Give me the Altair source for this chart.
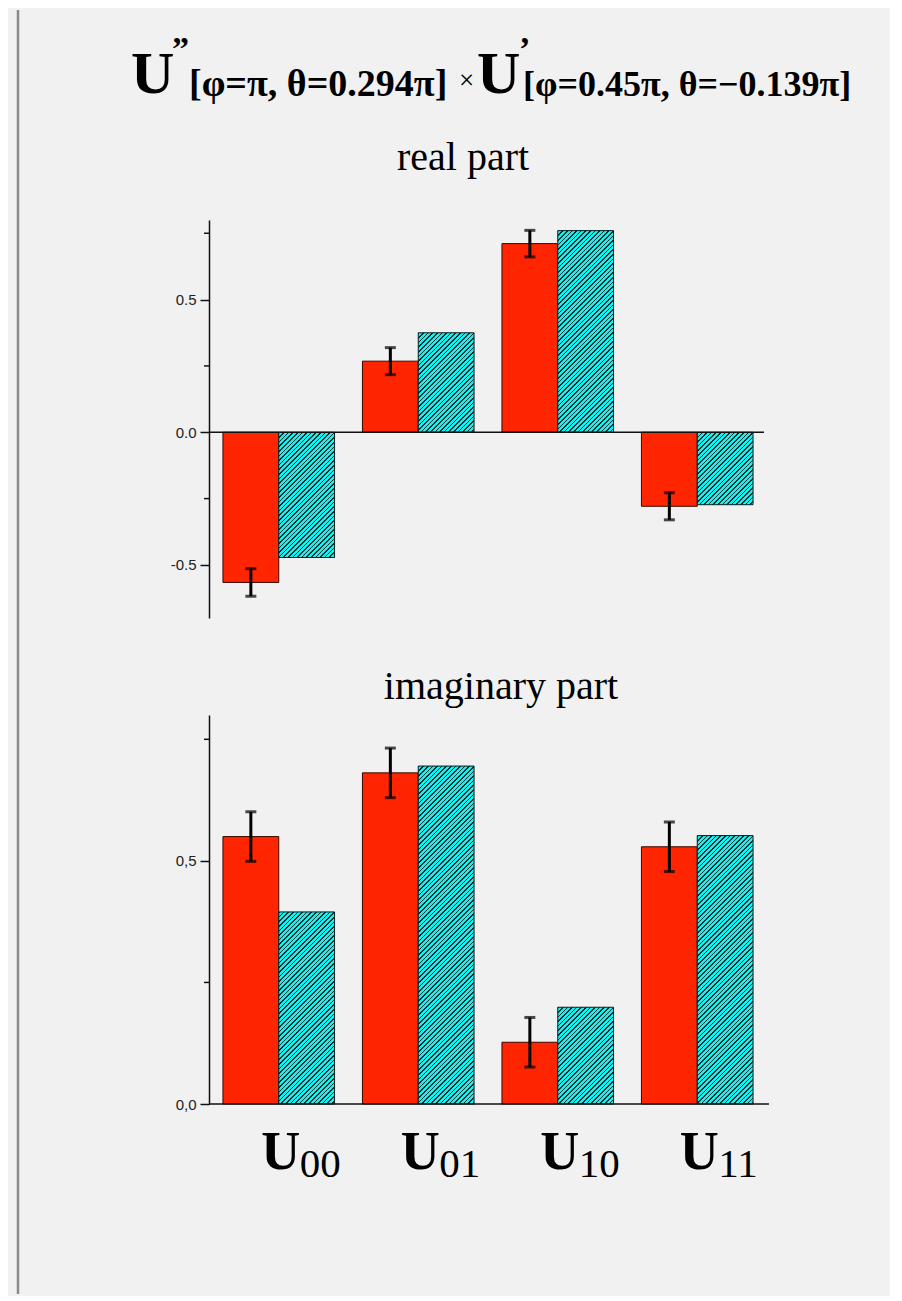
import altair as alt
import pandas as pd

# ---------------- data ----------------
categories = ["U00", "U01", "U10", "U11"]
subscripts = ["00", "01", "10", "11"]
series = ["exp", "theory"]

real_exp = [-0.566, 0.268, 0.711, -0.279]
real_err = [0.052, 0.051, 0.050, 0.051]
real_theory = [-0.472, 0.375, 0.760, -0.273]

imag_exp = [0.550, 0.681, 0.127, 0.529]
imag_err = [0.051, 0.051, 0.051, 0.051]
imag_theory = [0.395, 0.695, 0.199, 0.552]

real_major = [-0.5, 0.0, 0.5]
real_minor = [-0.25, 0.25, 0.75]
imag_major = [0.0, 0.5]
imag_minor = [0.25, 0.75]

# ---------------- style / layout ----------------
W = 558
H = 884
TOP_DOMAIN = [-0.7, 0.8]
TOP_RANGE = [398, 0]
BOT_DOMAIN = [0.0, 0.8]
BOT_RANGE = [884, 495]

RED = "#ff2500"
CYAN = "#12f2f2"
DARK = "#0c2b2b"
BG = "#f1f1f1"
SERIF = "Liberation Serif"
SANS = "Liberation Sans"

SUB_W = W / 4 * 0.8 / 2


def hatch(h_px, w_px=SUB_W, period=4.6, line=1.6):
    """Diagonal '/' hatch expressed as a hard-stop linear gradient in bbox units."""
    L = w_px + h_px
    k = L / (w_px ** 2 + h_px ** 2)
    stops = []
    c = 0.0
    while c < L:
        a = round(c / L, 5)
        b = round(min((c + line) / L, 1.0), 5)
        e = round(min((c + period) / L, 1.0), 5)
        stops += [
            {"offset": a, "color": DARK},
            {"offset": b, "color": DARK},
            {"offset": b, "color": CYAN},
            {"offset": e, "color": CYAN},
        ]
        c += period
    return {"gradient": "linear", "x1": 0, "y1": 0,
            "x2": round(k * w_px, 5), "y2": round(k * h_px, 5), "stops": stops}


def make_df(exp, err, theory):
    rows = []
    for i, c in enumerate(categories):
        rows.append({"cat": c, "series": "exp", "val": exp[i],
                     "lo": exp[i] - err[i], "hi": exp[i] + err[i]})
        rows.append({"cat": c, "series": "theory", "val": theory[i],
                     "lo": theory[i], "hi": theory[i]})
    return pd.DataFrame(rows)


def group(df, domain, rng, major, minor, label_expr, theory, zero_x2):
    px_per_unit = abs(rng[0] - rng[1]) / (domain[1] - domain[0])
    scale = alt.Scale(domain=domain, range=rng, nice=False, zero=False)
    axis = alt.Axis(values=major, labelExpr=label_expr, tickSize=9, tickWidth=1.5,
                    tickColor="#111", domainColor="#111", domainWidth=1.5,
                    labelFont=SANS, labelFontSize=15, labelColor="#222",
                    labelPadding=4, grid=False, title=None, orient="left")
    x = alt.X("cat:N", sort=categories, axis=None,
              scale=alt.Scale(paddingInner=0.2, paddingOuter=0.1))
    xo = alt.XOffset("series:N", sort=series)

    def Y(field):
        return alt.Y(f"{field}:Q", scale=scale, axis=axis, stack=None)

    base = alt.Chart(df)
    layers = []
    layers.append(
        base.transform_filter(alt.datum.series == "exp")
        .mark_bar(fill=RED, stroke="#3a0800", strokeWidth=1)
        .encode(x=x, xOffset=xo, y=Y("val"))
    )
    for i, c in enumerate(categories):
        h = abs(theory[i]) * px_per_unit
        layers.append(
            base.transform_filter((alt.datum.series == "theory") & (alt.datum.cat == c))
            .mark_bar(fill=hatch(h), stroke="#0a1e1e", strokeWidth=1)
            .encode(x=x, xOffset=xo, y=Y("val"))
        )
    # zero line
    layers.append(
        alt.Chart(pd.DataFrame({"val": [0.0]}))
        .mark_rule(color="#111", strokeWidth=1.5)
        .encode(y=Y("val"), x=alt.value(0), x2=alt.value(zero_x2))
    )
    # minor ticks
    layers.append(
        alt.Chart(pd.DataFrame({"val": minor}))
        .mark_rule(color="#111", strokeWidth=1.5)
        .encode(y=Y("val"), x=alt.value(-5), x2=alt.value(0))
    )
    # error bars
    err = base.transform_filter(alt.datum.series == "exp")
    layers.append(
        err.mark_rule(color="#000", strokeWidth=3)
        .encode(x=x, xOffset=xo, y=Y("lo"), y2="hi:Q")
    )
    for f in ["lo", "hi"]:
        layers.append(
            err.mark_tick(color="#000", thickness=3, size=11, orient="horizontal")
            .encode(x=x, xOffset=xo, y=Y(f))
        )
    return layers


real_df = make_df(real_exp, real_err, real_theory)
imag_df = make_df(imag_exp, imag_err, imag_theory)

top_layers = group(real_df, TOP_DOMAIN, TOP_RANGE, real_major, real_minor,
                   "replace(format(datum.value, '.1f'), '\u2212', '-')", real_theory, 555)
bot_layers = group(imag_df, BOT_DOMAIN, BOT_RANGE, imag_major, imag_minor,
                   "replace(format(datum.value, '.1f'), '.', ',')", imag_theory, 560)

one = pd.DataFrame({"k": [0]})


def label(text, x, y, size, weight="normal", align="left", font=SERIF):
    return (alt.Chart(one)
            .mark_text(text=text, font=font, fontSize=size, fontWeight=weight,
                       align=align, baseline="alphabetic", color="#000")
            .encode(x=alt.value(x), y=alt.value(y)))


texts = [
    label("U", -78, -127, 60, "bold"),
    label("\u201d", -37, -160, 34, "bold"),
    label("[\u03c6=\u03c0, \u03b8=0.294\u03c0]", -20, -124, 38, "bold"),
    label("\u00d7", 250, -131, 27),
    label("U", 268, -127, 60, "bold"),
    label("\u2019", 310, -160, 34, "bold"),
    label("[\u03c6=0.45\u03c0, \u03b8=\u22120.139\u03c0]", 314, -124, 36, "bold"),
    label("real part", 254, -50, 40, align="center"),
    label("imaginary part", 292, 479, 40, align="center"),
]

# left grey margin line of the page
side_line = (alt.Chart(one).mark_rule(color="#8a8a8a", strokeWidth=2.5)
             .encode(x=alt.value(-191), y=alt.value(-210), y2=alt.value(1074)))

xlab_x = alt.X("cat:N", sort=categories, axis=None,
               scale=alt.Scale(paddingInner=0.2, paddingOuter=0.1))
lab_df = pd.DataFrame({"cat": categories, "sub": subscripts})
u_labels = (alt.Chart(lab_df)
            .mark_text(text="U", font=SERIF, fontSize=54, fontWeight="bold",
                       align="center", baseline="alphabetic", dx=2, color="#000")
            .encode(x=xlab_x, y=alt.value(949)))
sub_labels = (alt.Chart(lab_df)
              .mark_text(font=SERIF, fontSize=41, align="left",
                         baseline="alphabetic", dx=21, color="#000")
              .encode(x=xlab_x, y=alt.value(957), text="sub:N"))

top = alt.layer(*top_layers, *texts, side_line)
bottom = alt.layer(*bot_layers, u_labels, sub_labels)

chart = (alt.layer(top, bottom)
         .resolve_scale(y="independent")
         .properties(width=W, height=H,
                     padding={"left": 8, "top": 0, "right": 38, "bottom": 0},
                     background=BG)
         .configure_view(stroke=None))

chart.save("out.html", embed_options={"renderer": "svg", "actions": False})
